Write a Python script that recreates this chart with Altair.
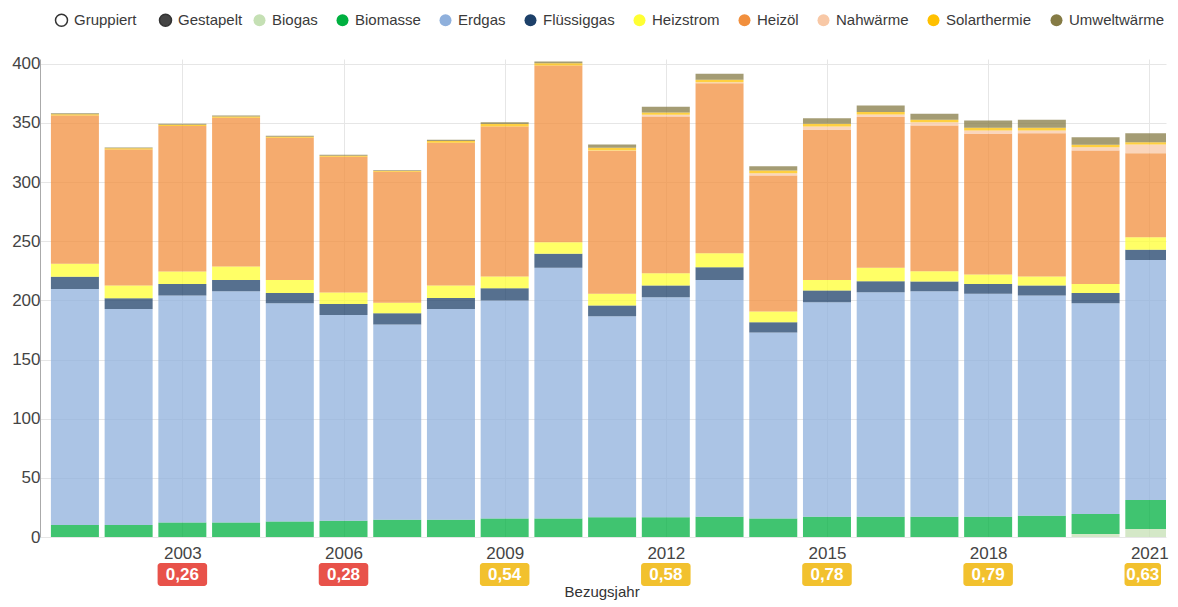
import altair as alt
import pandas as pd

years = list(range(2001, 2022))
series = ["Biogas", "Biomasse", "Erdgas", "Flüssiggas", "Heizstrom", "Heizöl",
          "Nahwärme", "Solarthermie", "Umweltwärme"]
colors = ["#c5e0b4", "#00b040", "#8fb0dc", "#1d4069", "#ffff33", "#f18f3d",
          "#f8c8a6", "#ffc000", "#857b45"]

biogas = [0, 0, 0, 0, 0, 0, 0, 0, 0, 0, 0, 0, 0, 0, 0, 0, 0, 0, 0, 2.5, 6.8]
biomasse = [10.1, 10.1, 12.3, 12.3, 13.2, 13.8, 14.6, 14.6, 15.7, 15.7, 16.6,
            16.6, 17.2, 15.7, 17.2, 17.2, 17.2, 17.2, 18.0, 16.9, 24.5]
erdgas = [199.6, 182.7, 191.8, 195.4, 184.3, 173.9, 164.9, 178.2, 184.1, 211.8,
          170.0, 186.0, 200.1, 157.2, 181.2, 189.7, 190.5, 188.3, 186.1, 178.1, 202.9]
fluessiggas = [10.2, 9.0, 9.8, 9.6, 8.8, 9.3, 9.6, 9.3, 10.4, 11.8, 9.0, 9.9,
               10.7, 8.6, 9.9, 9.3, 8.2, 8.4, 8.4, 8.8, 8.5]
heizstrom = [11.0, 10.7, 10.5, 11.3, 11.0, 9.6, 8.8, 10.4, 9.9, 9.9, 9.9, 10.4,
             11.8, 9.0, 9.0, 11.3, 8.7, 7.9, 7.6, 7.6, 10.7]
heizoel = [125.4, 115.0, 122.9, 125.7, 120.1, 114.7, 110.8, 120.7, 126.9, 149.4,
           120.7, 132.4, 143.8, 115.0, 126.9, 127.4, 123.2, 119.0, 121.2, 112.8, 71.0]
nahwaerme = [0, 0, 0, 0, 0, 0, 0, 0, 0, 0, 0.5, 1.5, 0.7, 2.0, 2.8, 2.2, 2.8,
             2.8, 2.3, 2.8, 7.4]
solarthermie = [1.1, 1.0, 1.1, 1.1, 0.9, 0.9, 0.7, 1.4, 2.0, 1.8, 2.3, 2.0, 2.2,
                2.3, 2.2, 2.0, 2.0, 2.3, 2.3, 2.0, 1.9]
umweltwaerme = [0.8, 0.7, 0.8, 0.9, 0.8, 0.8, 0.6, 1.1, 1.6, 1.5, 2.8, 4.8, 5.0,
                3.6, 4.8, 5.6, 5.1, 6.1, 6.7, 6.4, 7.6]

badge_years = [2003, 2006, 2009, 2012, 2015, 2018, 2021]
badge_values = [0.26, 0.28, 0.54, 0.58, 0.78, 0.79, 0.63]

modes = ["Gruppiert", "Gestapelt"]
tick_years = [2003, 2006, 2009, 2012, 2015, 2018, 2021]
y_ticks = [0, 50, 100, 150, 200, 250, 300, 350, 400]

all_series = [biogas, biomasse, erdgas, fluessiggas, heizstrom, heizoel,
              nahwaerme, solarthermie, umweltwaerme]
rows = []
for idx, (name, vals) in enumerate(zip(series, all_series)):
    for yr, v in zip(years, vals):
        rows.append({"Jahr": yr, "Energieträger": name, "Wert": v, "idx": idx})
df = pd.DataFrame(rows)

badge_df = pd.DataFrame({"Jahr": badge_years, "Kennzahl": badge_values})
mode_df = pd.DataFrame({"Modus": modes})

W = 1126
H = 478
FONT = "Liberation Sans"
X_MIN, X_MAX = 2000.443, 2021.218

x_scale = alt.Scale(domain=[X_MIN, X_MAX], nice=False, zero=False)

bars = alt.Chart(df).mark_bar(size=48, opacity=0.75, clip=True).encode(
    x=alt.X("Jahr:Q", scale=x_scale,
            axis=alt.Axis(values=tick_years, format="d", title="Bezugsjahr",
                          grid=True, gridColor="#e6e6e6", domain=False,
                          ticks=False, tickSize=0,
                          labelPadding=8, labelFontSize=17, labelColor="#444",
                          labelFlush=15,
                          titleFontSize=15, titleFontWeight="normal", titleColor="#333",
                          titleX=561.6, titleY=54.5, titleBaseline="middle")),
    y=alt.Y("Wert:Q", stack="zero", scale=alt.Scale(domain=[0, 404], nice=False),
            axis=alt.Axis(values=y_ticks, title=None, grid=True, gridColor="#e6e6e6",
                          domainColor="#aaa", ticks=False, tickSize=0, labelPadding=0,
                          labelFontSize=17, labelColor="#444")),
    color=alt.Color("Energieträger:N",
                    scale=alt.Scale(domain=series, range=colors),
                    legend=alt.Legend(title=None, orient="none", legendX=212, legendY=-46.5,
                                      direction="horizontal", columns=9,
                                      symbolType="circle", symbolSize=144,
                                      symbolOpacity=1, symbolStrokeWidth=0,
                                      labelFontSize=15, labelColor="#3a3a3a",
                                      columnPadding=17, labelOffset=5)),
    order=alt.Order("idx:Q"),
)

mode_layer = alt.Chart(mode_df).transform_filter("false").mark_point(
    filled=True, stroke="#333", strokeWidth=1.5, size=144, shape="circle"
).encode(
    fill=alt.Fill("Modus:N", scale=alt.Scale(domain=modes, range=["#ffffff", "#444444"]),
                  legend=alt.Legend(title=None, orient="none", legendX=14, legendY=-46.5,
                                    direction="horizontal", columns=2,
                                    symbolType="circle", symbolSize=144,
                                    symbolStrokeWidth=1.5, symbolOpacity=1,
                                    labelFontSize=15, labelColor="#3a3a3a",
                                    columnPadding=19, labelOffset=5))
)

badge_base = alt.Chart(badge_df).transform_calculate(
    label="replace(format(datum.Kennzahl, '.2f'), '.', ',')",
    b0="datum.Jahr - 0.461",
    b1=f"min(datum.Jahr + 0.461, {X_MAX})",
).transform_calculate(
    bm="(datum.b0 + datum.b1) / 2"
)
badges = badge_base.mark_bar(cornerRadius=3).encode(
    x=alt.X("b0:Q", scale=x_scale),
    x2="b1:Q",
    y=alt.value(H + 26),
    y2=alt.value(H + 49),
    color=alt.condition("datum.Kennzahl < 0.5", alt.value("#e8524a"), alt.value("#f2c12e")),
)
badge_text = badge_base.mark_text(color="white", fontSize=17, fontWeight="bold",
                                  baseline="middle", font=FONT).encode(
    x=alt.X("bm:Q", scale=x_scale),
    y=alt.value(H + 38),
    text="label:N",
)

chart = alt.layer(bars, mode_layer, badges, badge_text).properties(
    width=W, height=H,
    padding={"left": 3, "top": 4, "right": 0, "bottom": 0},
).configure(font=FONT).configure_view(stroke=None).configure_legend(
    labelFont=FONT
).configure_axis(labelFont=FONT, titleFont=FONT)

chart.save("out.html", embed_options={"renderer": "svg", "actions": False})
